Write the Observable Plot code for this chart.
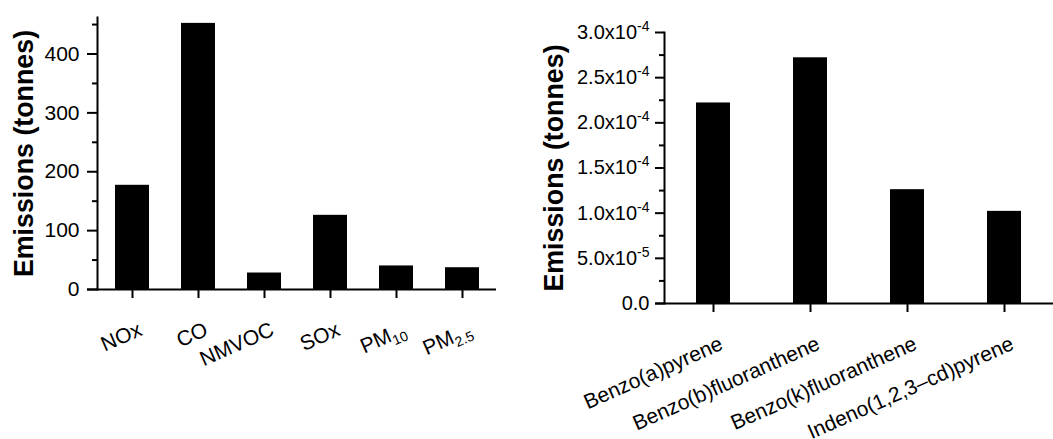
<!DOCTYPE html>
<html>
<head>
<meta charset="utf-8">
<script src="https://cdn.jsdelivr.net/npm/d3@7"></script>
<script src="https://cdn.jsdelivr.net/npm/@observablehq/plot@0.6"></script>
<style>
  body { margin: 0; background: #fff; }
  #wrap { position: relative; width: 1053px; height: 439px; overflow: hidden; font-family: "Liberation Sans", Arial, sans-serif; }
  #left { position: absolute; left: 0; top: 0; }
  #right { position: absolute; left: 520px; top: 0; }
</style>
</head>
<body>
<div id="wrap"><div id="left"></div><div id="right"></div></div>
<script>
// ---- data ----
const leftCategories = ["NOx", "CO", "NMVOC", "SOx", "PM_10", "PM_2.5"];
const leftValues = [177, 452, 28, 126, 40, 37];
const leftTicks = [0, 100, 200, 300, 400];
const leftMinorTicks = [50, 150, 250, 350, 450];

const rightCategories = ["Benzo(a)pyrene", "Benzo(b)fluoranthene", "Benzo(k)fluoranthene", "Indeno(1,2,3\u2013cd)pyrene"];
const rightValues = [2.22e-4, 2.72e-4, 1.26e-4, 1.02e-4];
const rightTicks = [0, 5e-5, 1e-4, 1.5e-4, 2e-4, 2.5e-4, 3e-4];
const rightTickLabels = ["0.0", "5.0x10^-5", "1.0x10^-4", "1.5x10^-4", "2.0x10^-4", "2.5x10^-4", "3.0x10^-4"];
const rightMinorTicks = [2.5e-5, 7.5e-5, 1.25e-4, 1.75e-4, 2.25e-4, 2.75e-4];

const yTitle = "Emissions (tonnes)";
const FONT = "Liberation Sans, Arial, sans-serif";

// turn "a^b" into superscript and "a_b" into subscript tspans
function fixScripts(svg) {
  svg.querySelectorAll("text").forEach(t => {
    const s = t.textContent;
    const m = s.match(/^(.*?)([\^_])(.*)$/);
    if (!m) return;
    t.textContent = "";
    const base = document.createElementNS("http://www.w3.org/2000/svg", "tspan");
    base.textContent = m[1];
    t.appendChild(base);
    const sc = document.createElementNS("http://www.w3.org/2000/svg", "tspan");
    sc.textContent = m[3];
    sc.setAttribute("font-size", "14");
    sc.setAttribute("dy", m[2] === "^" ? "-8" : "5");
    t.appendChild(sc);
  });
}

function makeChart({cats, vals, domainMax, ticks, tickFormat, minor, width, marginLeft, marginRight, marginTop, marginBottom, padIn, padOut, titleDx, tickFont, majorSize, tickPad}) {
  const data = cats.map((c, i) => ({c, v: vals[i]}));
  const svg = Plot.plot({
    width, height: 439,
    marginLeft, marginRight, marginTop, marginBottom,
    style: {fontFamily: FONT, fontSize: tickFont + "px", color: "#000", background: "#fff", overflow: "visible"},
    x: {domain: cats, paddingInner: padIn, paddingOuter: padOut, label: null},
    y: {domain: [0, domainMax], label: null},
    marks: [
      Plot.barY(data, {x: "c", y: "v", fill: "#000"}),
      Plot.frame({anchor: "left", stroke: "#000", strokeWidth: 2}),
      Plot.ruleY([0], {stroke: "#000", strokeWidth: 2, insetLeft: -majorSize}),
      Plot.axisY({ticks: minor, tickSize: 5, tickFormat: () => "", strokeWidth: 2}),
      Plot.axisY({ticks, tickSize: majorSize, tickPadding: tickPad, tickFormat, strokeWidth: 2, fontSize: tickFont, label: null}),
      Plot.axisX({tickSize: 9, tickFormat: () => "", strokeWidth: 2, label: null}),
      Plot.text(cats, {x: d => d, text: d => d, frameAnchor: "bottom", dx: 8, dy: 39, rotate: -24, textAnchor: "end", lineAnchor: "middle", fontSize: 21, fill: "#000"}),
      Plot.text([yTitle], {frameAnchor: "left", dx: titleDx, rotate: -90, text: d => d, textAnchor: "middle", lineAnchor: "middle", fontSize: 26.8, fontWeight: "bold", fill: "#000"})
    ]
  });
  fixScripts(svg);
  return svg;
}

document.getElementById("left").appendChild(makeChart({
  cats: leftCategories, vals: leftValues, domainMax: 462,
  ticks: leftTicks, tickFormat: d => String(d), minor: leftMinorTicks,
  width: 520, marginLeft: 97, marginRight: 24, marginTop: 17, marginBottom: 150,
  padIn: 0.49, padOut: 0.245, titleDx: -73.5, tickFont: 21, majorSize: 10, tickPad: 8
}));

document.getElementById("right").appendChild(makeChart({
  cats: rightCategories, vals: rightValues, domainMax: 3e-4,
  ticks: rightTicks, tickFormat: (d) => rightTickLabels[rightTicks.indexOf(d)], minor: rightMinorTicks,
  width: 533, marginLeft: 144, marginRight: 0, marginTop: 32, marginBottom: 136,
  padIn: 0.65, padOut: 0.325, titleDx: -110, tickFont: 20, majorSize: 9, tickPad: 6
}));
</script>
</body>
</html>
